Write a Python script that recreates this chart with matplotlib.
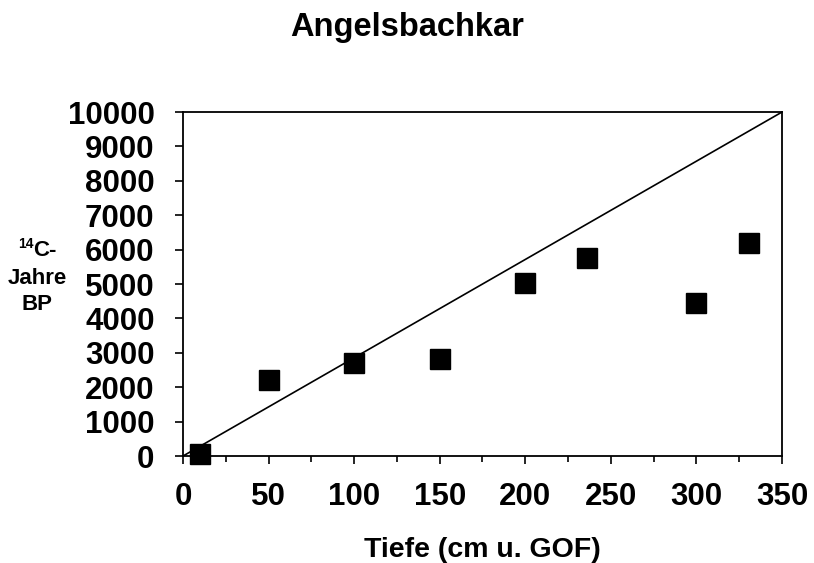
import matplotlib.pyplot as plt
from matplotlib.ticker import MultipleLocator

plt.rcParams['font.family'] = ['Liberation Sans', 'DejaVu Sans']
plt.rcParams['font.weight'] = 'bold'

# Tiefe (cm) und 14C-Alter
tiefe = [10, 50, 100, 150, 200, 236, 300, 331]
alter = [60, 2210, 2700, 2820, 5030, 5760, 4450, 6200]

# Referenzlinie
linie_x = [0, 350]
linie_y = [0, 10000]

fig = plt.figure(figsize=(8.14, 5.63), dpi=100)
ax = fig.add_axes([0.2248, 0.190, 0.7359, 0.611])

ax.plot(linie_x, linie_y, color='black', linewidth=1.2)
ax.plot(tiefe, alter, 's', color='black', markersize=14.5, clip_on=False)

ax.set_xlim(0, 350)
ax.set_ylim(0, 10000)
ax.xaxis.set_major_locator(MultipleLocator(50))
ax.xaxis.set_minor_locator(MultipleLocator(25))
ax.yaxis.set_major_locator(MultipleLocator(1000))

ax.tick_params(axis='both', which='major', direction='out', length=6, width=1.2, labelsize=22.5)
ax.tick_params(axis='x', which='minor', direction='out', length=4, width=1.2)
ax.tick_params(axis='x', pad=13)
ax.tick_params(axis='y', pad=14.5)
for lab in ax.get_xticklabels() + ax.get_yticklabels():
    lab.set_fontweight('bold')
for sp in ax.spines.values():
    sp.set_linewidth(1.3)

ax.set_xlabel('Tiefe (cm u. GOF)', fontsize=20.5, fontweight='bold', labelpad=18)
fig.text(0.5, 0.952, 'Angelsbachkar', ha='center', va='center', fontsize=23.5, fontweight='bold')

# y-Beschriftung mit hochgestellter 14
fig.text(0.041, 0.555, 'C-', ha='left', va='center', fontsize=16, fontweight='bold')
fig.text(0.041, 0.566, '14', ha='right', va='center', fontsize=10, fontweight='bold')
fig.text(0.046, 0.505, 'Jahre', ha='center', va='center', fontsize=16, fontweight='bold')
fig.text(0.046, 0.46, 'BP', ha='center', va='center', fontsize=16, fontweight='bold')

fig.savefig('out.png', dpi=100)
